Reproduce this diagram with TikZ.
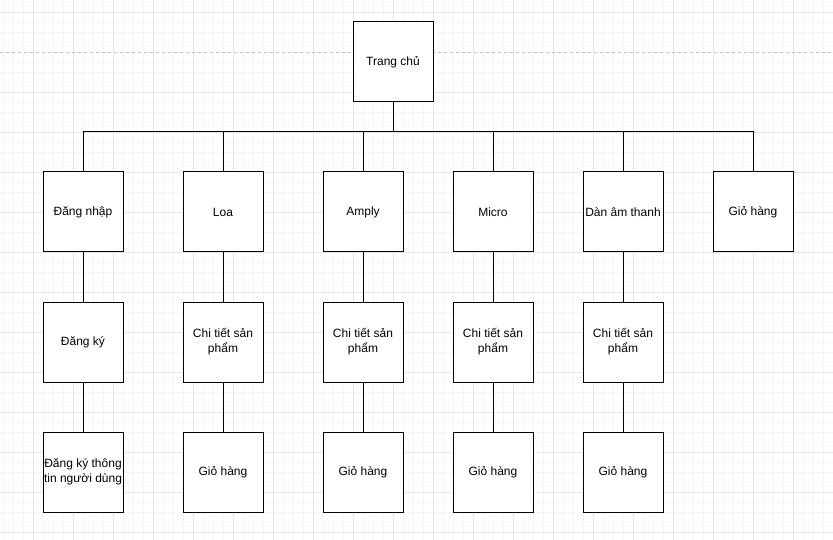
\documentclass[tikz,border=0pt]{standalone}
\usepackage{fontspec}
\setmainfont{Liberation Sans}
\usetikzlibrary{positioning}
\definecolor{GridMinor}{RGB}{246, 246, 246}
\definecolor{GridMajor}{RGB}{230, 230, 230}
\definecolor{PageBreak}{RGB}{196, 196, 196}

\begin{document}
\begin{tikzpicture}[
    x=1pt, y=-1pt,
    font=\fontsize{12}{15}\selectfont,
    page/.style={
        draw=black,                % Box outline
        fill=white,
        line width=1pt,
        minimum width=80pt,
        minimum height=80pt,
        inner sep=0pt,
        outer sep=0pt,
        align=center
    },
    link/.style={
        draw=black,
        line width=1pt
    }
]

    % --- 0. Canvas and grid ---
    \fill[white] (0,0) rectangle (833,540);
    \useasboundingbox (0,0) rectangle (833,540);
    \foreach \gx in {3,13,...,833} \draw[GridMinor, line width=0.7pt] (\gx,0) -- (\gx,540);
    \foreach \gy in {2,12,...,540} \draw[GridMinor, line width=0.7pt] (0,\gy) -- (833,\gy);
    \foreach \gx in {33,73,...,833} \draw[GridMajor, line width=0.7pt] (\gx,0) -- (\gx,540);
    \foreach \gy in {12,92,132,...,540} \draw[GridMajor, line width=0.7pt] (0,\gy) -- (833,\gy);
    \draw[PageBreak, dashed, line width=0.7pt] (0,52) -- (833,52);

    % --- 1. Home page ---
    \node[page] (home) at (393,62) {Trang chủ};

    % --- 2. First level pages ---
    \node[page] (login)  at (83,212)  {Đăng nhập};
    \node[page] (loa)    at (223,212) {Loa};
    \node[page] (amply)  at (363,212) {Amply};
    \node[page] (micro)  at (493,212) {Micro};
    \node[page] (danam)  at (623,212) {Dàn âm thanh};
    \node[page] (cart)   at (753,212) {Giỏ hàng};

    % --- 3. Second level pages ---
    \node[page, below=50pt of login] (register)    {Đăng ký};
    \node[page, below=50pt of loa]   (loaDetail)   {Chi tiết sản\\phẩm};
    \node[page, below=50pt of amply] (amplyDetail) {Chi tiết sản\\phẩm};
    \node[page, below=50pt of micro] (microDetail) {Chi tiết sản\\phẩm};
    \node[page, below=50pt of danam] (danamDetail) {Chi tiết sản\\phẩm};

    % --- 4. Third level pages ---
    \node[page, below=50pt of register]    (userInfo)  {Đăng ký thông\\tin người dùng};
    \node[page, below=50pt of loaDetail]   (loaCart)   {Giỏ hàng};
    \node[page, below=50pt of amplyDetail] (amplyCart) {Giỏ hàng};
    \node[page, below=50pt of microDetail] (microCart) {Giỏ hàng};
    \node[page, below=50pt of danamDetail] (danamCart) {Giỏ hàng};

    % --- 5. Links ---
    \coordinate (bus) at (393,132);
    \draw[link] (home.south) -- (bus);
    \draw[link] (bus) -| (login.north);
    \draw[link] (bus) -| (loa.north);
    \draw[link] (bus) -| (amply.north);
    \draw[link] (bus) -| (micro.north);
    \draw[link] (bus) -| (danam.north);
    \draw[link] (bus) -| (cart.north);

    \draw[link] (login.south) -- (register.north);
    \draw[link] (loa.south)   -- (loaDetail.north);
    \draw[link] (amply.south) -- (amplyDetail.north);
    \draw[link] (micro.south) -- (microDetail.north);
    \draw[link] (danam.south) -- (danamDetail.north);

    \draw[link] (register.south)    -- (userInfo.north);
    \draw[link] (loaDetail.south)   -- (loaCart.north);
    \draw[link] (amplyDetail.south) -- (amplyCart.north);
    \draw[link] (microDetail.south) -- (microCart.north);
    \draw[link] (danamDetail.south) -- (danamCart.north);

\end{tikzpicture}
\end{document}
